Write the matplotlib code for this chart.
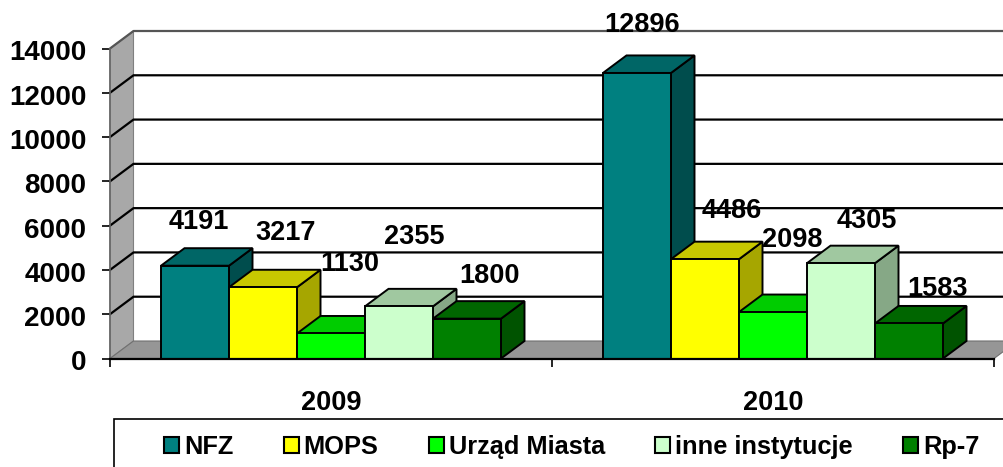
import matplotlib
matplotlib.use('Agg')
from matplotlib import pyplot as plt
from matplotlib.patches import Rectangle, Patch
from matplotlib.transforms import ScaledTranslation
import numpy as np

plt.rcParams['font.family'] = ['Liberation Sans', 'DejaVu Sans']
plt.rcParams['font.weight'] = 'bold'

lata = ['2009', '2010']
serie = ['NFZ', 'MOPS', 'Urząd Miasta', 'inne instytucje', 'Rp-7']
nfz = [4191, 12896]
mops = [3217, 4486]
urzad = [1130, 2098]
inne = [2355, 4305]
rp7 = [1800, 1583]
y_ticks = [0, 2000, 4000, 6000, 8000, 10000, 12000, 14000]

przod = ['#008080', '#ffff00', '#00ff00', '#ccffcc', '#008000']
gora = ['#006666', '#c8c800', '#00cc00', '#a0c8a0', '#006600']
bok = ['#004d4d', '#a6a600', '#00a600', '#86a886', '#005300']

# przesuniecia etykiet wzgledem srodka slupka [px]
etyk_2009 = [(4, 44), (23, 54), (19, 69), (15, 69), (23, 43)]
etyk_2010 = [(5, 48), (27, 48), (19, 72), (26, 42), (29, 34)]

W, H = 1004, 467
fig = plt.figure(figsize=(W/100, H/100), dpi=100)
ax = fig.add_axes([110/W, (H-358.5)/H, 884/W, 310/H])
ax.patch.set_alpha(0)
ax.set_xlim(0, 2)
ax.set_ylim(0, 14000)

# glebokosc 3D w jednostkach danych
dx = 23.5/442
dy = 17.5*14000/310
szer = 68/442
start = 51/442

# sciana boczna i podloga
ax.fill([0, dx, dx, 0], [0, dy, 14000+dy, 14000], color='#a8a8a8', ec='#808080', lw=0.8, clip_on=False, zorder=1)
ax.fill([0, dx, 2+dx, 2], [0, dy, dy, 0], color='#969696', ec='#707070', lw=0.8, clip_on=False, zorder=1)

# siatka
for t in y_ticks[1:]:
    c = '#555555' if t == 14000 else 'black'
    ax.plot([0, dx, 2+dx], [t, t+dy, t+dy], color=c, lw=1.6, clip_on=False, zorder=2)

wartosci = [nfz, mops, urzad, inne, rp7]
etykiety = [etyk_2009, etyk_2010]
z = 3
for g in range(len(lata)):
    for s in range(len(serie)):
        v = wartosci[s][g]
        x0 = g + start + s*szer
        x1 = x0 + szer
        ax.fill([x1, x1+dx, x1+dx, x1], [0, dy, v+dy, v], color=bok[s], ec='black', lw=1.4, clip_on=False, zorder=z)
        ax.fill([x0, x0+dx, x1+dx, x1], [v, v+dy, v+dy, v], color=gora[s], ec='black', lw=1.4, clip_on=False, zorder=z)
        ax.bar(x0, v, szer, align='edge', color=przod[s], ec='black', lw=1.4, zorder=z, clip_on=False)
        z += 1
        ox, oy = etykiety[g][s]
        ax.annotate(str(v), (x0+szer/2, v), xytext=(ox, oy), textcoords='offset pixels',
                    ha='center', va='center', fontsize=19.5, fontweight='bold', color='black',
                    annotation_clip=False, zorder=50)

ax.set_yticks(y_ticks)
ax.set_xticks([0.5, 1.5])
ax.set_xticklabels(lata)
ax.set_xticks([0, 1, 2], minor=True)
ax.tick_params(axis='y', length=6, width=1.2, labelsize=20, pad=11)
ax.tick_params(axis='x', which='major', length=0, labelsize=19.5, pad=23)
ax.tick_params(axis='x', which='minor', length=6, width=1.2)
przes = ScaledTranslation(0, -2/100, fig.dpi_scale_trans)
for lab in ax.get_yticklabels():
    lab.set_transform(lab.get_transform() + przes)
for sp in ['top', 'right']:
    ax.spines[sp].set_visible(False)
ax.spines['left'].set_linewidth(1.2)
ax.spines['left'].set_color('#666666')
ax.spines['bottom'].set_linewidth(1.6)
ax.spines['bottom'].set_zorder(40)

# legenda
fig.add_artist(Rectangle((114/W, -10/H), 900/W, (H-419+10)/H, transform=fig.transFigure,
                         fc='white', ec='black', lw=1.2))
uchwyty = [Patch(fc=przod[i], ec='black', lw=1.5, label=serie[i]) for i in range(len(serie))]
leg = fig.legend(handles=uchwyty, loc='center left', bbox_to_anchor=(164/W, (H-447)/H), ncol=5,
                 frameon=False, fontsize=18.3, borderpad=0, borderaxespad=0, handlelength=0.59,
                 handleheight=0.59, handletextpad=0.2, columnspacing=1.97)

fig.savefig('out.png', dpi=100)
